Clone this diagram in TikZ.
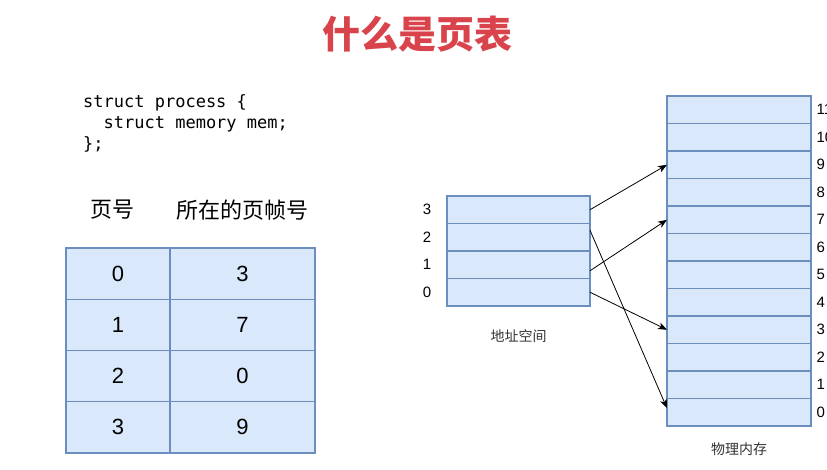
\documentclass[tikz,border=0pt]{standalone}
\usepackage{fontspec}
\setmainfont{Liberation Sans}
\setmonofont{DejaVu Sans Mono}
\newfontfamily\cjk{Noto Sans CJK SC}
\usetikzlibrary{positioning, arrows.meta}
\definecolor{titleRed}{HTML}{D9434B}
\definecolor{cellBlue}{HTML}{DAE8FC}
\definecolor{cellBorder}{HTML}{6C8EBF}
\definecolor{labelGrey}{HTML}{333333}

\tikzset{
  cell/.style={draw=cellBorder, line width=1.2pt, fill=cellBlue, inner sep=0pt, outer sep=0pt},
  tabcell/.style={cell, minimum height=51.25pt, font=\fontsize{22}{26}\selectfont},
  slot/.style={cell, minimum width=143pt, minimum height=27.5pt},
  slotnum/.style={font=\fontsize{15}{17}\selectfont},
  caption/.style={font=\cjk\fontsize{14}{16}\selectfont, text=labelGrey},
  link/.style={-{Stealth[length=9pt, width=7pt, inset=2.5pt]}, line width=0.8pt},
}

\begin{document}
\begin{tikzpicture}[x=1pt, y=-1pt]
    \useasboundingbox[fill=white] (0,0) rectangle (827,470);

    \node[font=\cjk\bfseries\fontsize{38}{40}\selectfont, text=titleRed] (title) at (417.5,34) {什么是页表};

    \node[anchor=west, align=left, inner sep=0pt, font=\ttfamily\fontsize{17}{21}\selectfont] (code) at (83,123)
      {struct process \{\\\phantom{ab}struct memory mem;\\\};};

    \node[font=\cjk\fontsize{22}{24}\selectfont] (hpage) at (112,210) {页号};
    \node[font=\cjk\fontsize{22}{24}\selectfont] (hframe) at (242,210) {所在的页帧号};

    \foreach \pg/\fno [count=\i from 0] in {0/3, 1/7, 2/0, 3/9} {
      \node[tabcell, minimum width=104pt] (pg\i) at (118, 273.6+51.25*\i) {\pg};
      \node[tabcell, minimum width=145pt, right=0pt of pg\i] (fr\i) {\fno};
    }

    \foreach \k in {0,...,3} {
      \node[slot] (as\k) at (518.5, 292.25-27.5*\k) {};
      \node[slotnum] (asl\k) at (427, 292.25-27.5*\k) {\k};
    }
    \node[caption, below=20pt of as0] (ascap) {地址空间};

    \foreach \k in {0,...,11} {
      \node[slot, minimum width=144pt] (pm\k) at (739, 412.25-27.5*\k) {};
      \node[slotnum, anchor=west] (pml\k) at (813, 412.25-27.5*\k) {\k};
    }
    \node[caption, below=13pt of pm0] (pmcap) {物理内存};

    \draw[link] (as3.east) -- (pm9.west);
    \draw[link] ([yshift=7pt]as2.east) -- ([yshift=4pt]pm0.west);
    \draw[link] ([yshift=-6pt]as1.east) -- (pm7.west);
    \draw[link] (as0.east) -- (pm3.west);
\end{tikzpicture}
\end{document}
